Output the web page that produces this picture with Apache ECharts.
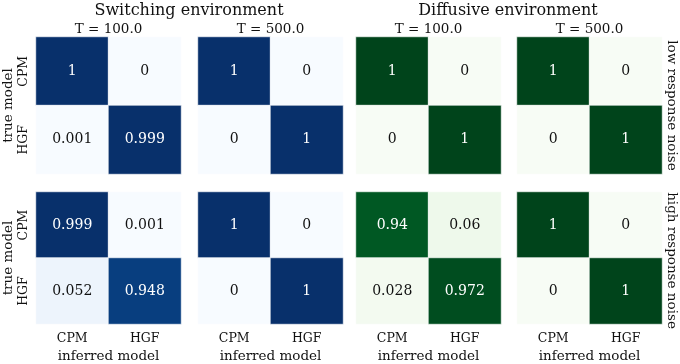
<!DOCTYPE html>
<html>
<head>
<meta charset="utf-8">
<script src="https://cdn.jsdelivr.net/npm/echarts@6/dist/echarts.min.js"></script>
<style>
  html, body { margin: 0; padding: 0; background: #fff; }
  #main { width: 680px; height: 364px; }
</style>
</head>
<body>
<div id="main"></div>
<script>
var models = ['CPM', 'HGF'];
var lengths = ['T = 100.0', 'T = 500.0', 'T = 100.0', 'T = 500.0'];
var envNames = ['Switching environment', 'Diffusive environment'];
var noiseNames = ['low response noise', 'high response noise'];

// rows = true model, cols = inferred model
var switchLow100 = [[1, 0], [0.001, 0.999]];
var switchLow500 = [[1, 0], [0, 1]];
var diffLow100 = [[1, 0], [0, 1]];
var diffLow500 = [[1, 0], [0, 1]];
var switchHigh100 = [[0.999, 0.001], [0.052, 0.948]];
var switchHigh500 = [[1, 0], [0, 1]];
var diffHigh100 = [[0.94, 0.06], [0.028, 0.972]];
var diffHigh500 = [[1, 0], [0, 1]];

var panels = [
    switchLow100, switchLow500, diffLow100, diffLow500,
    switchHigh100, switchHigh500, diffHigh100, diffHigh500
];

var blues = ['#f7fbff', '#deebf7', '#c6dbef', '#9ecae1', '#6baed6', '#4292c6', '#2171b5', '#08519c', '#08306b'];
var greens = ['#f7fcf5', '#e5f5e0', '#c7e9c0', '#a1d99b', '#74c476', '#41ab5d', '#238b45', '#006d2c', '#00441b'];

var font = 'DejaVu Serif';
var lefts = [36, 198, 356, 517];
var tops = [37, 192];
var w = 145, h = 137;

var grids = [], xAxes = [], yAxes = [], series = [];
panels.forEach(function (m, i) {
    var col = i % 4, row = Math.floor(i / 4);
    grids.push({ left: lefts[col], top: tops[row], width: w, height: h });
    xAxes.push({
        type: 'category', gridIndex: i, data: models,
        axisLine: { show: false }, axisTick: { show: false }, splitLine: { show: false },
        axisLabel: { show: row === 1, fontFamily: font, fontSize: 12.5, color: '#111', margin: 8 },
        name: row === 1 ? 'inferred model' : '', nameLocation: 'middle', nameGap: 25,
        nameTextStyle: { fontFamily: font, fontSize: 13.5, color: '#111' }
    });
    yAxes.push({
        type: 'category', gridIndex: i, data: models, inverse: true,
        axisLine: { show: false }, axisTick: { show: false }, splitLine: { show: false },
        axisLabel: { show: col === 0, rotate: 90, fontFamily: font, fontSize: 12.5, color: '#111', margin: 6 },
        name: col === 0 ? 'true model' : '', nameLocation: 'middle', nameGap: 21, nameRotate: 90,
        nameTextStyle: { fontFamily: font, fontSize: 13.5, color: '#111' }
    });
    var data = [];
    m.forEach(function (r, ri) {
        r.forEach(function (v, ci) {
            data.push({
                value: [ci, ri, v],
                label: { color: v > 0.5 ? '#fff' : '#111' }
            });
        });
    });
    series.push({
        type: 'heatmap', xAxisIndex: i, yAxisIndex: i, data: data,
        itemStyle: { borderColor: '#fff', borderWidth: 0.6 },
        label: {
            show: true, fontFamily: font, fontSize: 14,
            formatter: function (p) { return String(p.value[2]); }
        },
        emphasis: { disabled: true }
    });
});

var titles = [
    { text: envNames[0], left: 189, top: 3, textAlign: 'center' },
    { text: envNames[1], left: 508, top: 3, textAlign: 'center' }
].map(function (t) {
    t.padding = 0;
    t.textStyle = { fontFamily: font, fontSize: 16, fontWeight: 'normal', color: '#111' };
    return t;
});
lengths.forEach(function (s, k) {
    titles.push({
        text: s, left: lefts[k] + w / 2, top: 22, textAlign: 'center', padding: 0,
        textStyle: { fontFamily: font, fontSize: 13.5, fontWeight: 'normal', color: '#111' }
    });
});

var graphics = noiseNames.map(function (s, r) {
    return {
        type: 'text', x: 671, y: tops[r] + h / 2, rotation: -Math.PI / 2,
        style: { text: s, font: '13.5px "DejaVu Serif"', fill: '#111', align: 'center', verticalAlign: 'middle' }
    };
});

var myChart = echarts.init(document.getElementById('main'));
var option = {
    animation: false,
    title: titles,
    grid: grids,
    xAxis: xAxes,
    yAxis: yAxes,
    visualMap: [
        { type: 'continuous', show: false, min: 0, max: 1, dimension: 2, seriesIndex: [0, 1, 4, 5], inRange: { color: blues } },
        { type: 'continuous', show: false, min: 0, max: 1, dimension: 2, seriesIndex: [2, 3, 6, 7], inRange: { color: greens } }
    ],
    graphic: graphics,
    series: series
};
myChart.setOption(option);
</script>
</body>
</html>
